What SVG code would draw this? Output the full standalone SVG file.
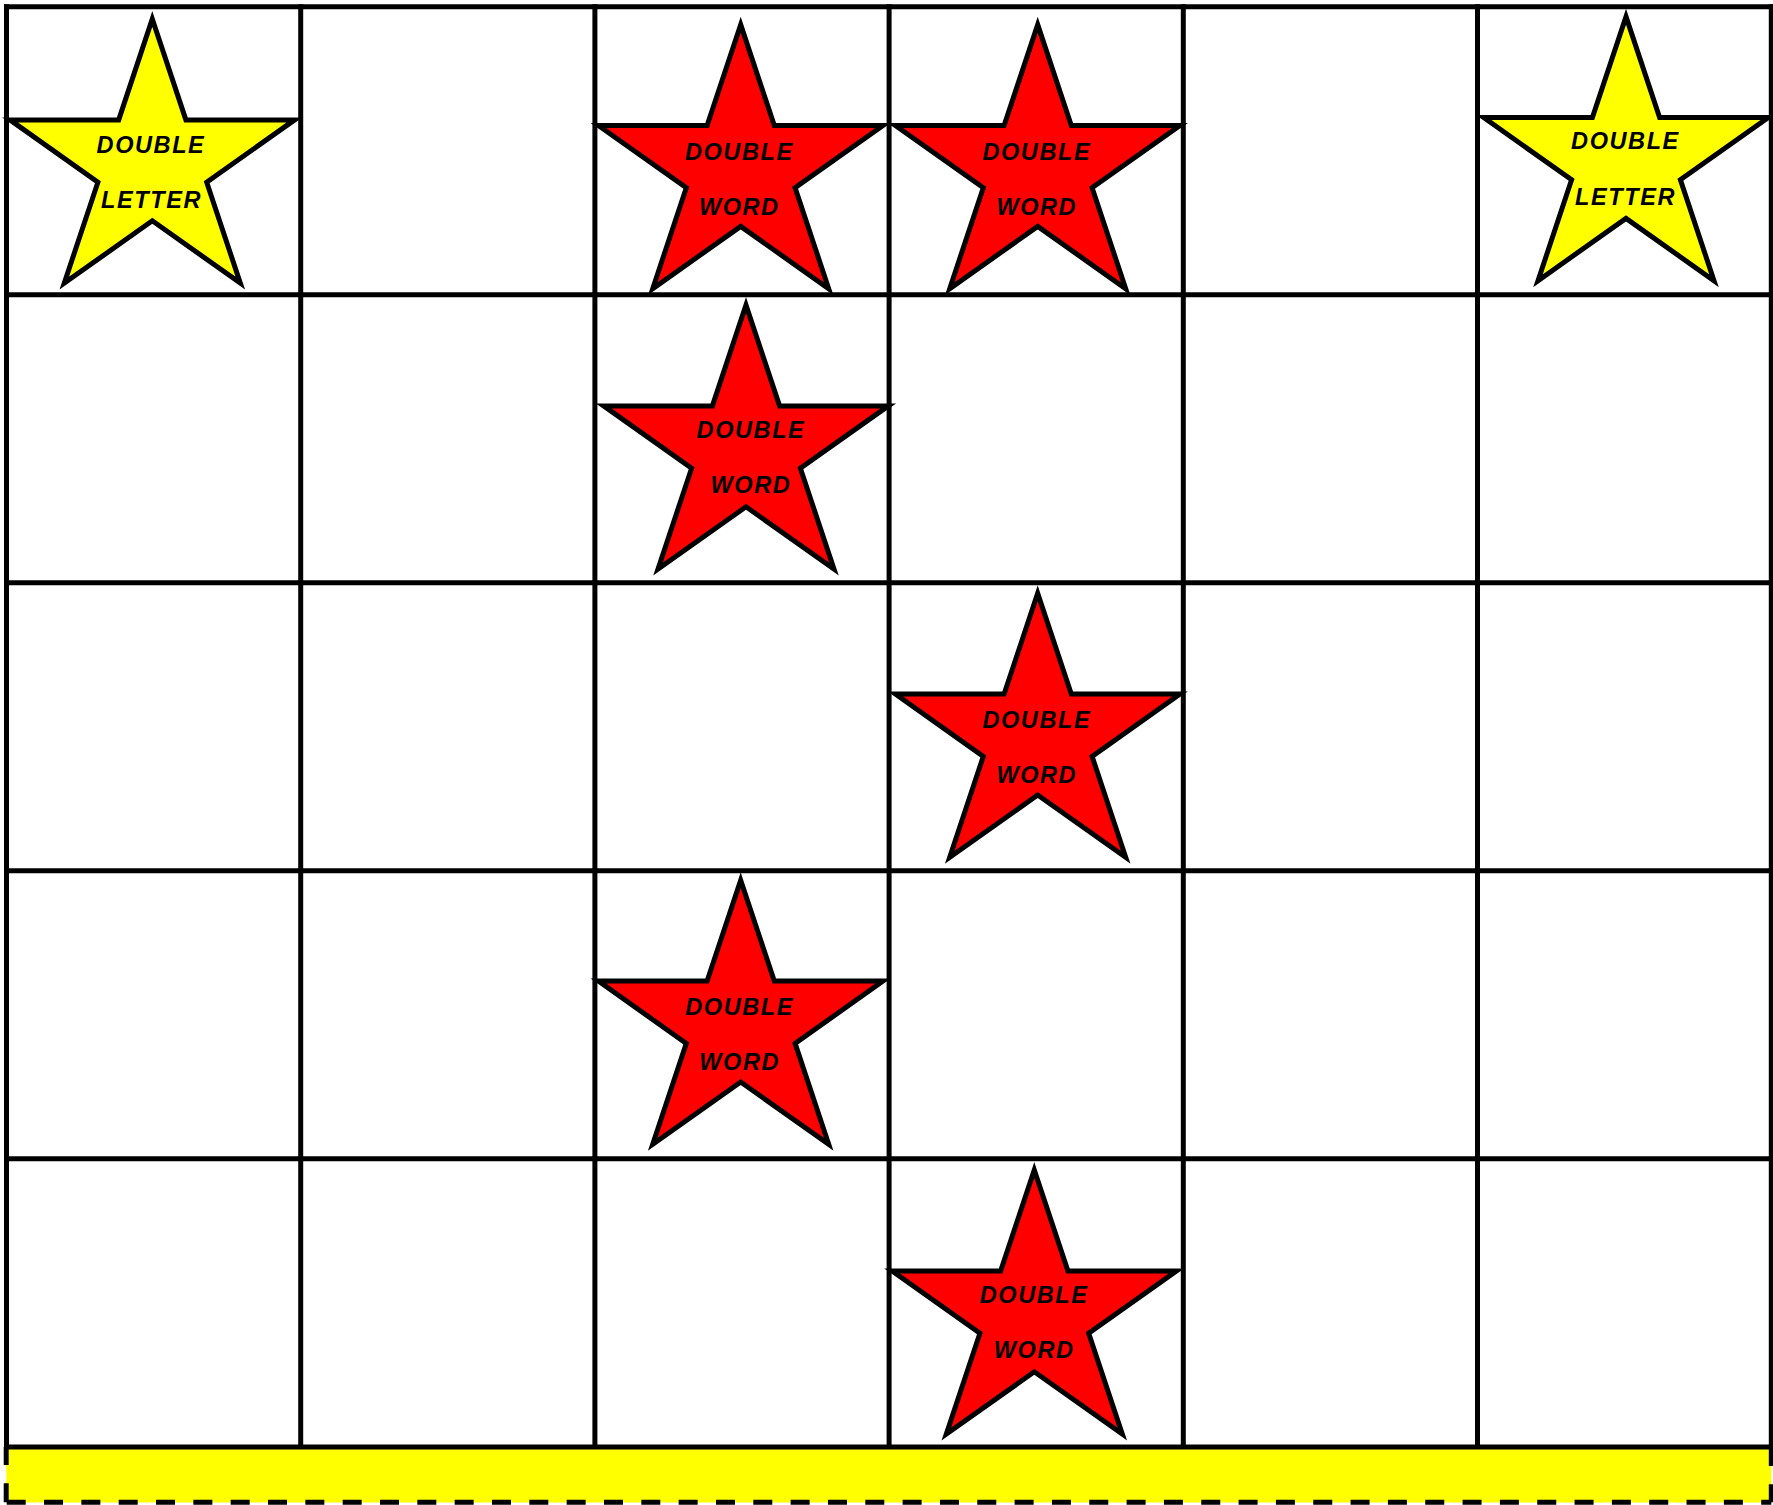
<svg xmlns="http://www.w3.org/2000/svg" xmlns:xlink="http://www.w3.org/1999/xlink" width="1773" height="1505" viewBox="0 0 1773 1505">
<style>
  .grid line { stroke:#000; stroke-width:5; }
  .star { stroke:#000; stroke-width:5; stroke-linejoin:miter; stroke-miterlimit:4; }
  .dw { fill:#FF0000; }
  .dl { fill:#FFFF00; }
  .lbl { font-family:"Liberation Sans", Arial, sans-serif; font-style:italic; font-weight:bold; font-size:23.5px; letter-spacing:1.6px; fill:#000; text-anchor:middle; }
  .band { fill:#FFFF00; }
  .dash { stroke:#000; stroke-width:5; stroke-dasharray:19 18.33; fill:none; }
</style>
<defs>
  <polygon id="starShape" points="0,-146 33.6,-45.1 142.3,-45.1 54.4,17.2 88,118.1 0,55.8 -88,118.1 -54.4,17.2 -142.3,-45.1 -33.6,-45.1"/>
</defs>
<rect width="1773" height="1505" fill="#fff"/>
<g id="band">
  <rect class="band" x="6.3" y="1447" width="1765" height="55.5"/>
  <line class="dash" x1="6.7" y1="1502.3" x2="1771.3" y2="1502.3"/>
  <line class="dash" x1="6.2" y1="1502.3" x2="6.2" y2="1447"/>
  <line class="dash" x1="1771.3" y1="1447" x2="1771.3" y2="1502.3"/>
</g>
<g id="grid" class="grid">
  <line x1="6.5" y1="4.3" x2="6.5" y2="1449"/>
  <line x1="300.7" y1="4.3" x2="300.7" y2="1449"/>
  <line x1="594.9" y1="4.3" x2="594.9" y2="1449"/>
  <line x1="889.1" y1="4.3" x2="889.1" y2="1449"/>
  <line x1="1183.3" y1="4.3" x2="1183.3" y2="1449"/>
  <line x1="1477.5" y1="4.3" x2="1477.5" y2="1449"/>
  <line x1="1771.3" y1="4.3" x2="1771.3" y2="1449"/>
  <line x1="4" y1="6.7" x2="1773" y2="6.7"/>
  <line x1="4" y1="294.7" x2="1773" y2="294.7"/>
  <line x1="4" y1="582.7" x2="1773" y2="582.7"/>
  <line x1="4" y1="870.7" x2="1773" y2="870.7"/>
  <line x1="4" y1="1158.7" x2="1773" y2="1158.7"/>
  <line x1="4" y1="1446.9" x2="1773" y2="1446.9"/>
</g>
<g id="star-dl-1">
  <use xlink:href="#starShape" href="#starShape" class="star dl" transform="translate(152.3,165)"/>
  <text class="lbl" x="151" y="153.3">DOUBLE</text>
  <text class="lbl" x="151.5" y="208.3">LETTER</text>
</g>
<g id="star-dw-1">
  <use xlink:href="#starShape" href="#starShape" class="star dw" transform="translate(740.7,170.6)"/>
  <text class="lbl" x="739.3" y="160">DOUBLE</text>
  <text class="lbl" x="739.3" y="215">WORD</text>
</g>
<g id="star-dw-2">
  <use xlink:href="#starShape" href="#starShape" class="star dw" transform="translate(1037.7,170.6)"/>
  <text class="lbl" x="1036.8" y="159.5">DOUBLE</text>
  <text class="lbl" x="1036.8" y="215">WORD</text>
</g>
<g id="star-dl-2">
  <use xlink:href="#starShape" href="#starShape" class="star dl" transform="translate(1626,162.6)"/>
  <text class="lbl" x="1625.5" y="149">DOUBLE</text>
  <text class="lbl" x="1625.5" y="205">LETTER</text>
</g>
<g id="star-dw-3">
  <use xlink:href="#starShape" href="#starShape" class="star dw" transform="translate(746,451)"/>
  <text class="lbl" x="751" y="437.7">DOUBLE</text>
  <text class="lbl" x="751" y="493.3">WORD</text>
</g>
<g id="star-dw-4">
  <use xlink:href="#starShape" href="#starShape" class="star dw" transform="translate(1037.7,739.2)"/>
  <text class="lbl" x="1036.8" y="727.7">DOUBLE</text>
  <text class="lbl" x="1036.8" y="783.3">WORD</text>
</g>
<g id="star-dw-5">
  <use xlink:href="#starShape" href="#starShape" class="star dw" transform="translate(740.7,1026.2)"/>
  <text class="lbl" x="739.7" y="1014.7">DOUBLE</text>
  <text class="lbl" x="739.7" y="1070.3">WORD</text>
</g>
<g id="star-dw-6">
  <use xlink:href="#starShape" href="#starShape" class="star dw" transform="translate(1034.3,1316)"/>
  <text class="lbl" x="1034.2" y="1303.3">DOUBLE</text>
  <text class="lbl" x="1034.2" y="1358.3">WORD</text>
</g>
</svg>
